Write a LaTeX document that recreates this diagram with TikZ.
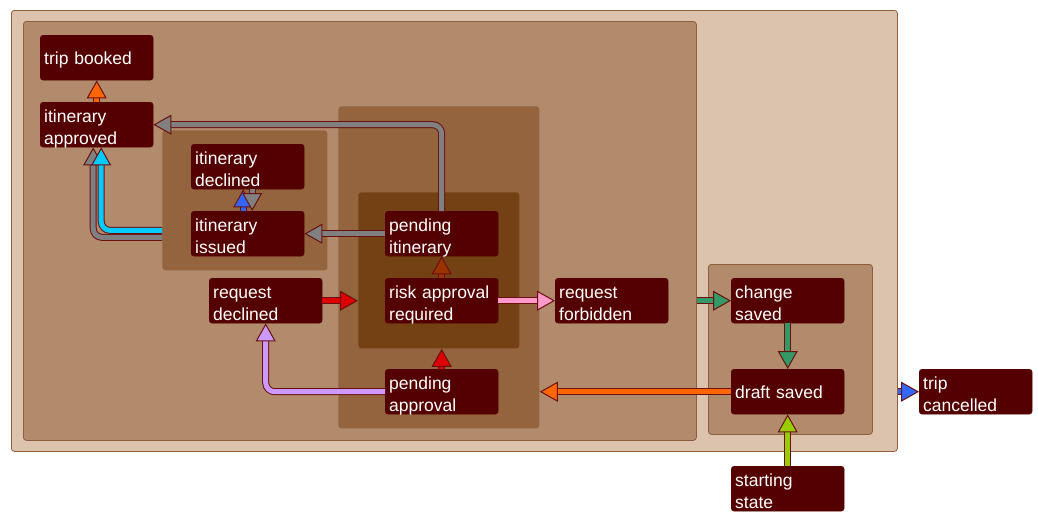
\documentclass[tikz,border=0pt]{standalone}
\usepackage{fontspec}
\setmainfont{Liberation Sans}
\usetikzlibrary{arrows.meta}
\definecolor{outerfill}{HTML}{DCC3AD}
\definecolor{bigfill}{HTML}{B28B6C}
\definecolor{midfill}{HTML}{93643E}
\definecolor{innerfill}{HTML}{744115}
\definecolor{boxline}{HTML}{8E5E3A}
\definecolor{statefill}{HTML}{550000}
\definecolor{edgeline}{HTML}{6B1010}
\definecolor{orangeedge}{HTML}{FF6600}
\definecolor{grayedge}{HTML}{808080}
\definecolor{cyanedge}{HTML}{00CCFF}
\definecolor{blueedge}{HTML}{3366FF}
\definecolor{brownedge}{HTML}{993300}
\definecolor{rededge}{HTML}{DD0000}
\definecolor{pinkedge}{HTML}{FF99CC}
\definecolor{purpleedge}{HTML}{CC99FF}
\definecolor{greenedge}{HTML}{339966}
\definecolor{limeedge}{HTML}{99CC00}
\tikzset{
  cluster/.style={draw=boxline, line width=0.8pt, rounded corners=3pt,
                  anchor=north west, inner sep=0pt},
  state/.style={fill=statefill, draw=statefill, rounded corners=3pt, anchor=north west,
                text=white, font=\fontsize{17.5}{22}\selectfont, align=left,
                text width=105pt, inner xsep=4pt, inner ysep=0pt,
                text height=20pt, text depth=25pt},
  shortstate/.style={state, text height=29pt, text depth=16pt},
  edge/.style={line width=5pt, draw=#1, rounded corners=9pt,
               -{Triangle[length=18pt, width=20pt, line width=1pt, color=edgeline, fill=#1]},
               preaction={draw=edgeline, line width=7pt, arrows=-, shorten >=9pt}},
}

\begin{document}
\begin{tikzpicture}[x=1pt, y=-1pt]
    \useasboundingbox (0,0) rectangle (1038,512);
    % nested clusters
    \node[cluster, fill=outerfill, minimum width=886pt, minimum height=441pt] (outer) at (11,10) {};
    \node[cluster, fill=bigfill, minimum width=673pt, minimum height=419pt] (bigbox) at (23,21) {};
    \node[cluster, draw=none, fill=midfill, minimum width=165pt, minimum height=140pt] (itbox) at (162,130) {};
    \node[cluster, draw=none, fill=midfill, minimum width=201pt, minimum height=322pt] (midbox) at (338,106) {};
    \node[cluster, draw=none, fill=innerfill, minimum width=161pt, minimum height=156pt] (riskbox) at (358,192) {};
    \node[cluster, fill=bigfill, minimum width=164pt, minimum height=170pt] (savebox) at (708,264) {};
    % states
    \node[shortstate] (booked) at (40,35) {trip booked};
    \node[state] (appr) at (40,102) {itinerary\\approved};
    \node[state] (declined) at (191,144) {itinerary\\declined};
    \node[state] (issued) at (191,211) {itinerary\\issued};
    \node[state] (pendit) at (385,211) {pending\\itinerary};
    \node[state] (risk) at (385,278) {risk approval\\required};
    \node[state] (reqdecl) at (209,278) {request\\declined};
    \node[state] (forbid) at (555,278) {request\\forbidden};
    \node[state] (pendapp) at (385,369) {pending\\approval};
    \node[state] (change) at (731,278) {change\\saved};
    \node[shortstate] (draft) at (731,369) {draft saved};
    \node[state] (cancel) at (919,369) {trip\\cancelled};
    \node[state] (start) at (731,466) {starting\\state};
    % transitions
    \draw[edge=orangeedge] (appr) -- (booked);
    \draw[edge=grayedge] (pendit) |- (appr);
    \draw[edge=grayedge] (pendit) -- (issued);
    \draw[edge=grayedge] ([yshift=-37pt]itbox.west) -| ([xshift=-3.5pt]appr.south);
    \draw[edge=cyanedge] ([yshift=-30pt]itbox.west) -| ([xshift=4.5pt]appr.south);
    \draw[edge=blueedge] ([xshift=-4.5pt]issued.north) -- ([xshift=-4.5pt]declined.south);
    \draw[edge=grayedge] ([xshift=4.5pt]declined.south) -- ([xshift=4.5pt]issued.north);
    \draw[edge=brownedge] (risk) -- (pendit);
    \draw[edge=pinkedge] (risk) -- (forbid);
    \draw[edge=rededge] (reqdecl) -- (reqdecl -| riskbox.west);
    \draw[edge=rededge] (pendapp) -- (pendapp |- riskbox.south);
    \draw[edge=purpleedge] (pendapp) -| (reqdecl);
    \draw[edge=orangeedge] (draft) -- (draft -| midbox.east);
    \draw[edge=greenedge] (change -| bigbox.east) -- (change);
    \draw[edge=greenedge] (change) -- (draft);
    \draw[edge=limeedge] (start) -- (draft);
    \draw[edge=blueedge] (cancel -| outer.east) -- (cancel);
\end{tikzpicture}
\end{document}
